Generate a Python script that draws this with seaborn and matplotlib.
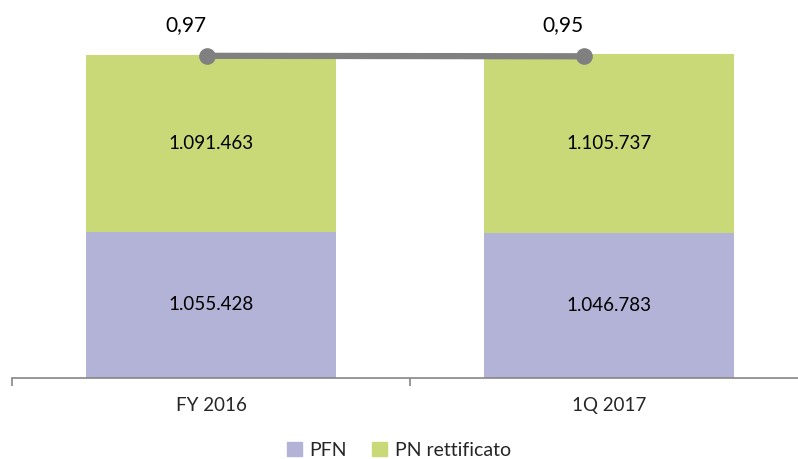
import numpy as np
import pandas as pd
import matplotlib
matplotlib.use('Agg')
import matplotlib.pyplot as plt
import seaborn as sns
from matplotlib.patches import Patch

# ---------------------------
# Data
# ---------------------------
categories = ['FY 2016', '1Q 2017']
pfn = [1055428, 1046783]
pn_rettificato = [1091463, 1105737]
ratio = [0.97, 0.95]

lavender = '#B3B3D7'
green = '#C9D978'
grey_line = '#808080'


def fmt_it(v):
    return f'{v:,}'.replace(',', '.')


df = pd.DataFrame({'categoria': categories, 'PFN': pfn, 'PN rettificato': pn_rettificato})
df['totale'] = df['PFN'] + df['PN rettificato']

sns.set_theme(style='white')
plt.rcParams['font.family'] = ['Lato', 'DejaVu Sans']

fig = plt.figure(figsize=(7.98, 4.59), dpi=100)
ax = fig.add_axes([12 / 798, 1 - 378 / 459, 796 / 798, 373 / 459])

# stacked bars: total in green, PFN drawn over it
sns.barplot(data=df, x='categoria', y='totale', color=green, width=0.626,
            saturation=1, linewidth=0, ax=ax)
sns.barplot(data=df, x='categoria', y='PFN', color=lavender, width=0.626,
            saturation=1, linewidth=0, ax=ax)

ax.set_ylim(155000, 2455000)
ax.set_xlim(-0.5, 1.5)

for i in range(len(categories)):
    ax.text(i, (155000 + pfn[i]) / 2, fmt_it(pfn[i]), ha='center', va='center',
            fontsize=13.5, color='black')
    ax.text(i, pfn[i] + pn_rettificato[i] / 2, fmt_it(pn_rettificato[i]),
            ha='center', va='center', fontsize=13.5, color='black')

for s in ['top', 'right', 'left']:
    ax.spines[s].set_visible(False)
ax.spines['bottom'].set_color('#868686')
ax.spines['bottom'].set_linewidth(1.2)
ax.set_yticks([])
ax.set_xlabel('')
ax.set_ylabel('')
ax.set_xticks([0, 1])
ax.set_xticklabels(categories, fontsize=13.5)
ax.tick_params(axis='x', which='major', length=0, pad=14)
ax.set_xticks([-0.5, 0.5, 1.5], minor=True)
ax.tick_params(axis='x', which='minor', bottom=True, length=6, width=1.2,
               color='#868686', direction='out')

# ratio line on its own (secondary) scales
ax2 = fig.add_axes(ax.get_position(), facecolor='none')
ax2.set_xlim(-0.517, 1.594)
ax2.set_ylim(-12.85, 3.15)
sns.lineplot(x=[0, 1], y=ratio, ax=ax2, color=grey_line, linewidth=4.5,
             marker='o', markersize=12, markeredgewidth=0)
for i, r in enumerate(ratio):
    ax2.annotate(f'{r:.2f}'.replace('.', ','), (i, r), xytext=(-15, 15),
                 textcoords='offset points', ha='center', va='bottom',
                 fontsize=15, color='black')
ax2.axis('off')

handles = [Patch(color=lavender, label='PFN'), Patch(color=green, label='PN rettificato')]
fig.legend(handles=handles, loc='center', bbox_to_anchor=(0.5, 1 - 450 / 459), ncol=2,
           frameon=False, fontsize=14, handlelength=0.75, handleheight=0.75,
           handletextpad=0.4, columnspacing=1.3)

fig.savefig('out.png', dpi=100)
